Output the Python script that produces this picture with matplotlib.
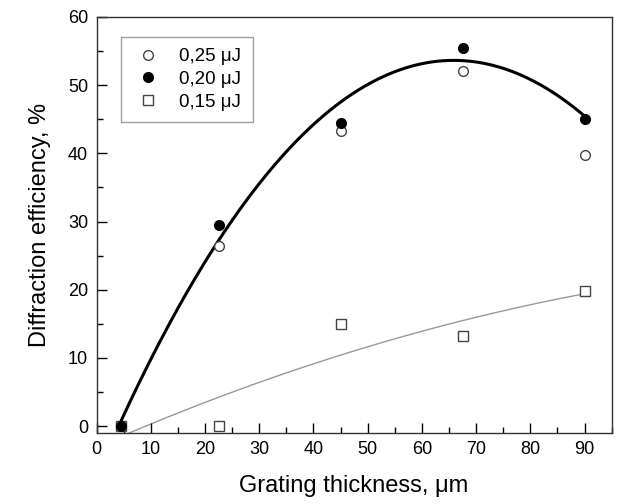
import numpy as np
import matplotlib
matplotlib.use("Agg")
import matplotlib.pyplot as plt
from matplotlib.ticker import MultipleLocator

plt.rcParams['font.family'] = ['Liberation Sans', 'DejaVu Sans']

thickness = [4.5, 22.5, 45, 67.5, 90]
e025 = [0, 26.4, 43.3, 52.0, 39.8]
e020 = [0, 29.5, 44.5, 55.5, 45.0]
e015 = [0, 0, 15.0, 13.2, 19.8]
labels = ['0,25 \u03bcJ', '0,20 \u03bcJ', '0,15 \u03bcJ']

fig = plt.figure(figsize=(6.31, 5.04), dpi=100)
ax = fig.add_axes([0.153, 0.141, 0.8164, 0.8254])

x = np.array(thickness)
# fitted curves
c20 = np.polyfit(x, e020, 2)
xs = np.linspace(4.5, 90, 200)
ax.plot(xs, np.polyval(c20, xs), color='black', lw=2.2, zorder=2)
c15 = np.polyfit(x, e015, 2)
xs2 = np.linspace(0, 90, 200)
ax.plot(xs2, np.polyval(c15, xs2), color='#999999', lw=1.0, zorder=1)

ax.plot(thickness, e025, 'o', mfc='white', mec='#444444', mew=1.0, ms=7, label=labels[0], zorder=3)
ax.plot(thickness, e020, 'o', mfc='black', mec='black', ms=7, label=labels[1], zorder=4)
ax.plot(thickness, e015, 's', mfc='white', mec='#444444', mew=1.0, ms=6.5, label=labels[2], zorder=3)

ax.set_xlim(0, 95)
ax.set_ylim(-1, 60)
ax.xaxis.set_major_locator(MultipleLocator(10))
ax.xaxis.set_minor_locator(MultipleLocator(5))
ax.yaxis.set_major_locator(MultipleLocator(10))
ax.yaxis.set_minor_locator(MultipleLocator(5))
ax.tick_params(which='both', direction='in', top=False, right=False, labelsize=13, width=1.0)
ax.tick_params(which='major', length=7, pad=6)
ax.tick_params(which='minor', length=4)
for s in ax.spines.values():
    s.set_linewidth(1.0)
    s.set_color('#333333')

ax.set_xlabel('Grating thickness, \u03bcm', fontsize=17, labelpad=12)
ax.set_ylabel('Diffraction efficiency, %', fontsize=17, labelpad=12)

leg = ax.legend(loc='upper left', bbox_to_anchor=(0.03, 0.975), fontsize=13.5, frameon=True,
                fancybox=False, edgecolor='#888888', handletextpad=0.9, borderpad=0.6,
                labelspacing=0.3, handlelength=1.6)
leg.get_frame().set_linewidth(1.0)

fig.savefig('out.png', dpi=100)
